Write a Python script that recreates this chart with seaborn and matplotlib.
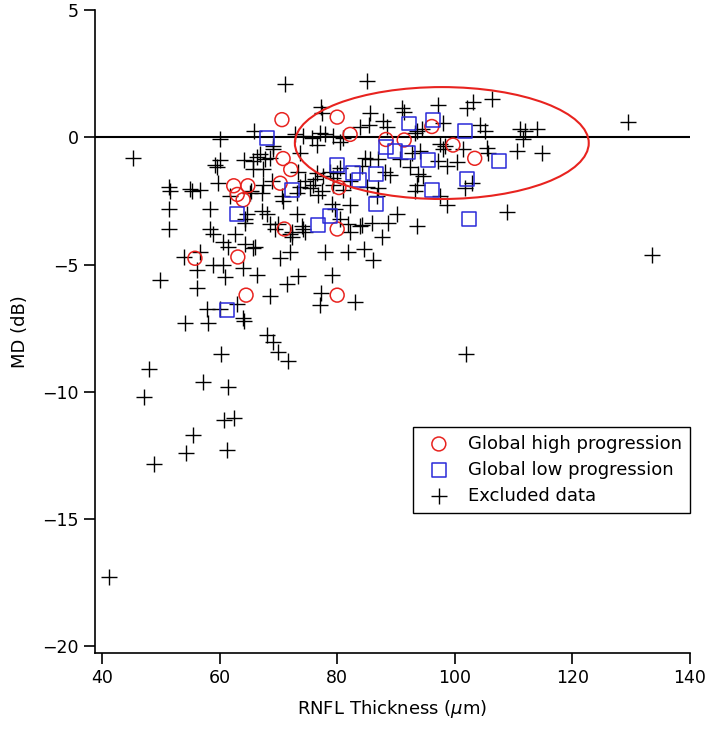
import matplotlib
matplotlib.use("Agg")
import matplotlib.pyplot as plt
from matplotlib.patches import Ellipse
import seaborn as sns
import pandas as pd

# Global high progression (red circles)
high_x = [70.6, 80.0, 82.2, 88.3, 91.4, 96.1, 99.7, 103.4, 70.8, 72.1, 70.3, 62.4, 64.8,
          63.0, 64.0, 80.3, 71.0, 80.0, 55.8, 63.1, 64.5, 80.0]
high_y = [0.7, 0.8, 0.12, -0.08, -0.1, 0.43, -0.3, -0.82, -0.83, -1.26, -1.8, -1.9, -1.9,
          -2.24, -2.45, -1.97, -3.6, -3.6, -4.75, -4.7, -6.2, -6.2]

# Global low progression (blue squares)
low_x = [68.1, 72.3, 63.0, 61.3, 92.2, 96.3, 101.7, 107.5, 88.3, 89.8, 92.0, 95.4, 80.0,
         82.7, 83.7, 86.6, 102.1, 96.1, 86.6, 78.8, 76.7, 102.4]
low_y = [-0.03, -2.05, -3.0, -6.8, 0.55, 0.67, 0.24, -0.94, -0.39, -0.55, -0.59, -0.9, -1.1,
         -1.41, -1.69, -1.45, -1.65, -2.08, -2.63, -3.1, -3.45, -3.2]

# Excluded data (black crosses)
excl_x = [45.3, 60.1, 60.1, 59.2, 59.5, 64.1, 65.9, 66.4, 65.7, 59.7, 51.4, 51.6, 55.0, 55.3,
          56.7, 66.9, 68.6, 67.4, 69.1, 73.7, 67.4, 68.9, 65.2, 67.2, 70.8, 73.2, 51.4, 58.4,
          67.2, 68.1, 64.3, 73.2, 68.6, 69.4, 51.4, 58.4, 58.9, 62.6, 60.6, 61.4, 64.3, 65.7,
          72.0, 74.2, 56.7, 53.9, 58.9, 60.6, 64.0, 56.2, 60.9, 66.4, 70.3, 72.0, 49.9, 56.2,
          71.5, 73.3, 68.6, 57.9, 60.1, 63.0, 64.0, 64.2, 54.1, 58.0, 68.1, 69.1, 69.9, 71.6,
          60.2, 48.0, 57.2, 61.4, 47.1, 60.7, 62.4, 55.5, 54.3, 61.3, 48.8, 41.2, 64.7, 64.3,
          65.3, 61.8,
          70.6, 75.9, 77.4, 76.7, 79.1, 79.6, 82.2, 80.5, 81.8, 82.2, 84.2, 69.9, 72.3, 72.3,
          74.0, 74.5, 66.0, 77.9, 81.8, 84.6, 86.1, 87.6, 88.6, 90.2, 79.1, 77.1, 77.2, 83.0,
          93.6, 98.7, 101.7, 108.9, 133.5, 101.9, 97.5,
          85.1, 77.2, 77.4, 85.6, 91.0, 97.1, 102.1, 103.1, 106.3, 87.8, 83.9, 85.4, 88.5, 93.6,
          98.0, 104.3, 105.1, 72.8, 74.2, 75.7, 77.1, 77.9, 79.3, 81.0, 80.5, 98.3, 101.4, 105.5,
          105.6, 97.1, 98.7, 100.4, 94.1, 93.7, 94.6, 92.4, 90.7, 84.7, 85.5, 86.9, 84.2, 88.1,
          89.0, 85.1, 86.9, 86.8, 82.2, 81.0, 78.8, 76.6, 76.2, 77.6, 79.3, 80.0, 74.5, 73.7,
          75.4, 79.3, 80.5, 73.3, 102.9, 93.6, 93.2, 83.9, 85.9,
          111.1, 111.9, 114.0, 111.6, 110.6, 114.8, 91.3, 97.5, 98.0, 93.2, 94.4, 92.7,
          71.1, 69.1, 76.6, 65.7, 67.7, 129.5]
excl_y = [-0.82, -0.08, -0.87, -1.07, -1.18, -0.9, 0.24, -0.75, -1.26, -1.8, -1.93, -2.1, -2.04, -2.1,
          -2.05, -0.67, -0.8, -1.26, -0.47, -0.63, -1.85, -1.73, -2.2, -2.2, -2.5, -2.2, -2.83, -2.83,
          -2.9, -3.0, -3.2, -3.0, -3.4, -3.6, -3.6, -3.6, -3.8, -3.8, -4.1, -4.3, -4.2, -4.36,
          -3.8, -3.6, -4.5, -4.7, -5.0, -5.0, -5.15, -5.2, -5.5, -5.4, -4.75, -4.5, -5.6, -5.9,
          -5.75, -5.46, -6.25, -6.76, -6.76, -6.56, -7.1, -7.2, -7.3, -7.3, -7.75, -8.05, -8.45, -8.77,
          -8.5, -9.1, -9.6, -9.8, -10.2, -11.1, -11.05, -11.7, -12.4, -12.3, -12.85, -17.3, -3.0, -3.38,
          -2.1, -2.3,
          -2.3, -1.85, -2.1, -2.25, -2.6, -2.8, -2.67, -3.2, -3.4, -3.7, -3.46, -3.4, -3.7, -3.9,
          -3.5, -3.7, -4.3, -4.5, -4.5, -4.4, -4.8, -3.9, -3.38, -3.0, -5.4, -6.6, -6.1, -6.45,
          -3.5, -2.67, -2.0, -2.95, -4.64, -8.5, -2.3,
          2.2, 1.2, 0.95, 0.95, 1.14, 1.26, 1.14, 1.38, 1.53, 0.63, 0.43, 0.5, 0.43, 0.24,
          0.55, 0.5, 0.24, 0.12, 0.04, -0.04, 0.16, 0.12, 0.04, -0.04, -0.16, -0.35, -0.47, -0.43,
          -0.6, -0.94, -1.14, -0.98, -0.55, -1.45, -1.53, -1.18, -0.86, -0.82, -0.86, -0.86, -1.14, -1.34,
          -1.46, -1.93, -2.0, -2.3, -1.73, -2.05, -1.34, -1.41, -1.65, -1.53, -1.61, -1.4, -1.73, -1.93,
          -2.0, -1.85, -1.22, -1.34, -1.8, -1.85, -2.1, -3.5, -3.38,
          0.35, 0.24, 0.35, -0.08, -0.55, -0.63, 1.0, -0.24, -0.47, 0.16, 0.35, -0.63,
          2.12, -0.35, -0.28, -0.94, -0.86, 0.59]

x_ticks = [40, 60, 80, 100, 120, 140]
y_ticks = [-20, -15, -10, -5, 0, 5]
y_ticklabels = ['\u221220', '\u221215', '\u221210', '\u22125', '0', '5']

sns.set_style("ticks")
plt.rcParams['font.family'] = ['DejaVu Sans']
plt.rcParams['text.color'] = 'black'
plt.rcParams['axes.labelcolor'] = 'black'
plt.rcParams['xtick.color'] = 'black'
plt.rcParams['ytick.color'] = 'black'

fig = plt.figure(figsize=(7.09, 7.34), dpi=100)
ax = fig.add_axes([0.134, 0.110, 0.839, 0.876])

ax.axhline(0, color='black', lw=1.5, zorder=1)

df_ex = pd.DataFrame({'x': excl_x, 'y': excl_y})
df_hi = pd.DataFrame({'x': high_x, 'y': high_y})
df_lo = pd.DataFrame({'x': low_x, 'y': low_y})

sns.scatterplot(data=df_hi, x='x', y='y', ax=ax, marker='o', s=100,
                facecolor='none', edgecolor='#e8231f', linewidth=1.1,
                label='Global high progression', zorder=3)
sns.scatterplot(data=df_lo, x='x', y='y', ax=ax, marker='s', s=100,
                facecolor='none', edgecolor='#2a2ad8', linewidth=1.1,
                label='Global low progression', zorder=3)
sns.scatterplot(data=df_ex, x='x', y='y', ax=ax, marker='+', s=120,
                color='black', linewidth=1.0,
                label='Excluded data', zorder=2)

ax.add_patch(Ellipse((97.8, -0.22), 50.0, 4.4, fill=False, edgecolor='#e8231f', lw=1.5, zorder=4))

ax.set_xlim(38.8, 140)
ax.set_ylim(-20.28, 5)
ax.set_xticks(x_ticks)
ax.set_yticks(y_ticks)
ax.set_yticklabels(y_ticklabels)
ax.tick_params(axis='both', direction='out', length=8, width=1.2, labelsize=12.5,
               color='black', labelcolor='black')
for side in ['top', 'right']:
    ax.spines[side].set_visible(False)
for side in ['left', 'bottom']:
    ax.spines[side].set_linewidth(1.2)
    ax.spines[side].set_color('black')

ax.set_xlabel(r'RNFL Thickness ($\mu$m)', fontsize=13, labelpad=8, color='black')
ax.set_ylabel('MD (dB)', fontsize=13, labelpad=10, color='black')

leg = ax.legend(loc='lower right', bbox_to_anchor=(1.0, 0.218), borderaxespad=0,
                fontsize=13, frameon=True, fancybox=False, edgecolor='black', framealpha=1,
                borderpad=0.45, labelspacing=0.45, handletextpad=0.6)
leg.get_frame().set_linewidth(1.0)
for t in leg.get_texts():
    t.set_color('black')

fig.savefig('out.png', dpi=100)
